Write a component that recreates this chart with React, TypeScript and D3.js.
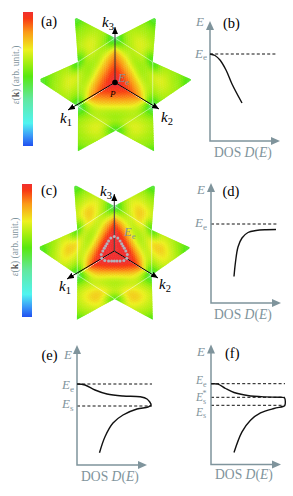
import React from 'react'
import * as d3 from 'd3'

// colour bar, value -> colour
const barValues = [0, 0.08, 0.17, 0.35, 0.52, 0.62, 0.72, 0.85, 0.95, 1]
const barColors = ['#2050f0', '#3c9cf8', '#50f4f0', '#62e8a0', '#58e810', '#a4ee10', '#eef020', '#fb9a18', '#f83a14', '#f03030']

// energy read on a grid of the (ki, kj) plane, step 0.25, rows ki, columns kj
const fieldA = [
  [1.04, 0.97, 0.9, 0.82, 0.25, 0.5, 0.5, 0.5, 0.5],
  [0.97, 0.93, 0.84, 0.72, 0.6, 0.6, 0.6, 0.55, 0.5],
  [0.9, 0.84, 0.72, 0.6, 0.66, 0.68, 0.62, 0.58, 0.5],
  [0.82, 0.72, 0.6, 0.58, 0.72, 0.74, 0.64, 0.6, 0.5],
  [0.25, 0.6, 0.66, 0.72, 0.25, 0.66, 0.62, 0.6, 0.4],
  [0.5, 0.6, 0.68, 0.74, 0.66, 0.62, 0.6, 0.58, 0.54],
  [0.5, 0.6, 0.62, 0.64, 0.62, 0.6, 0.58, 0.58, 0.54],
  [0.5, 0.55, 0.58, 0.6, 0.6, 0.58, 0.58, 0.54, 0.54],
  [0.5, 0.5, 0.5, 0.5, 0.4, 0.54, 0.54, 0.54, 0.54],
]
const fieldC = [
  [1.15, 1.06, 0.98, 0.88, 0.25, 0.5, 0.5, 0.5, 0.5],
  [1.06, 1.02, 0.92, 0.76, 0.62, 0.62, 0.6, 0.55, 0.5],
  [0.98, 0.92, 0.74, 0.6, 0.7, 0.74, 0.66, 0.6, 0.5],
  [0.88, 0.76, 0.6, 0.6, 0.82, 0.84, 0.68, 0.62, 0.5],
  [0.25, 0.62, 0.7, 0.82, 0.25, 0.7, 0.66, 0.6, 0.4],
  [0.5, 0.62, 0.74, 0.84, 0.7, 0.64, 0.62, 0.6, 0.56],
  [0.5, 0.6, 0.66, 0.68, 0.66, 0.62, 0.6, 0.58, 0.56],
  [0.5, 0.55, 0.6, 0.62, 0.6, 0.6, 0.58, 0.56, 0.56],
  [0.5, 0.5, 0.5, 0.5, 0.4, 0.56, 0.56, 0.56, 0.56],
]

// the far corners of each plane, in units of its own two axes
const planeCorners = [
  [[1.94, 0.92], [0.92, 1.94]],
  [[2.04, 1.16], [1.09, 2.06]],
  [[2.06, 1.09], [1.18, 2.08]],
]

// E_e contour in panel (c): radius of each dot, one 120 degree turn
const contourRadii = [14.5, 13.5, 11.5, 10.4, 10, 10.4, 11.5, 13.5]

// DOS curves
const curveBD = [0, 5, 10, 16, 22, 32]
const curveBE = [87, 85.5, 81, 71, 57, 38]
const curveDD = [23, 24.5, 27, 31, 37, 45, 55, 65]
const curveDE = [26.5, 41, 56, 65, 70.5, 72.5, 73.3, 73.5]
const curveED = [0, 8, 18, 30, 46, 63, 70, 74, 71, 60, 46, 36, 28, 22.5]
const curveEE = [81, 80, 75, 71, 69, 68.3, 66, 60, 58, 56, 50, 42, 28.3, 12.3]
const curveFD = [0, 7, 14.5, 23, 36.5, 53, 70, 73.5, 73.8, 72, 63, 49.5, 39.5, 31, 23]
const curveFE = [80.6, 80.3, 76, 72, 69, 67.6, 67.2, 66.6, 58.8, 58, 56, 51.6, 44.3, 32.6, 12]

const gray = '#7f949c'
const serif = '"Liberation Serif", serif'

function field3D(cx: number, cy: number, table: number[][], k1: number[], k2: number[], k3: number[], id: string) {
  const color = d3.scaleLinear<string>().domain(barValues).range(barColors).clamp(true)
  const unit = d3.scaleLinear().domain([0, 8]).range([0, 2])
  const sub = 5
  const step = 0.25 / sub
  const planes = [[k1, k2], [k2, k3], [k3, k1]]
  // smooth the grid with splines along both directions
  const rows = table.map((r) => d3.interpolateBasis(r))
  const read = (u: number, v: number) => d3.interpolateBasis(rows.map((r) => r(v / 2)))(u / 2)
  const grid = d3.range(0, 8 * sub).map((d) => unit(d / sub))
  return planes.map(([p, q], n) => {
    const pts = [[0, 0], [1, 0], planeCorners[n][0], [1, 1], planeCorners[n][1], [0, 1]]
    const outline = pts.map(([u, v]) => `${u},${v}`).join(' ')
    return (
      <g key={n} transform={`matrix(${p[0]},${p[1]},${q[0]},${q[1]},${cx},${cy})`}>
        <clipPath id={`${id}${n}`}><polygon points={outline} /></clipPath>
        <g clipPath={`url(#${id}${n})`}>
          {grid.flatMap((u) => grid.filter((v) => v <= u + 1.2 && u <= v + 1.2).map((v) => (
            <rect key={`${u}-${v}`} x={u} y={v} width={step * 1.25} height={step * 1.25}
              fill={color(read(u + step / 2, v + step / 2))} />
          )))}
        </g>
        <polyline points="1,0 1,1 0,1" fill="none" stroke="#fff" strokeOpacity={0.7}
          strokeWidth={0.7} vectorEffect="non-scaling-stroke" />
      </g>
    )
  })
}

function Sub({ x, y, main, sub, size = 14, fill = 'black', supr }: any) {
  return (
    <text x={x} y={y} fontFamily={serif} fontSize={size} fill={fill}>
      <tspan fontStyle="italic">{main}</tspan>
      <tspan dy={size * 0.22} fontSize={size * 0.7}>{sub}</tspan>
      {supr && <tspan dx={-size * 0.33} dy={-size * 0.62} fontSize={size * 0.7}>{supr}</tspan>}
    </text>
  )
}

function Bar({ x, y, h, id }: any) {
  const unit = d3.scaleLinear().domain([0, 1]).range([100, 0])
  return (
    <g>
      <linearGradient id={id} x1="0" x2="0" y1="0" y2="1">
        {barValues.map((v, i) => <stop key={v} offset={`${unit(v)}%`} stopColor={barColors[i]} />).reverse()}
      </linearGradient>
      <rect x={x} y={y} width={10} height={h} fill={`url(#${id})`} />
    </g>
  )
}

function BarLabel({ x, y }: any) {
  return (
    <text transform={`translate(${x},${y}) rotate(-90)`} fontFamily={serif} fontSize={9.6} fill={gray} textAnchor="middle">
      <tspan fontStyle="italic">ε</tspan>(<tspan fontWeight="bold" fill="#555">k</tspan>) (arb. unit.)
    </text>
  )
}

function Dos({ x0, y0, dos, en, dashes, w = 70, h = 120, dashEnd = 66 }: any) {
  const x = d3.scaleLinear().domain([0, w]).range([x0, x0 + w])
  const y = d3.scaleLinear().domain([0, h]).range([y0, y0 - h])
  const line = d3.line<number>().x((d) => x(dos[d])).y((d) => y(en[d])).curve(d3.curveCatmullRom.alpha(0.5))
  return (
    <g>
      {dashes.map((d: number) => (
        <line key={d} x1={x(0)} x2={x(dashEnd)} y1={y(d)} y2={y(d)} stroke="#111" strokeWidth={1} strokeDasharray="3 2.2" />
      ))}
      <path d={`M${x(0)},${y(h - 6)}V${y(0)}H${x(w - 6)}`} fill="none" stroke={gray} strokeWidth={1.5} />
      <path d={`M${x(0)},${y(h)}l4,9h-8z`} fill={gray} />
      <path d={`M${x(w)},${y(0)}l-9,-4v8z`} fill={gray} />
      <path d={line(d3.range(dos.length)) as string} fill="none" stroke="#111" strokeWidth={1.4} />
    </g>
  )
}

function DosLabel({ x, y }: any) {
  return (
    <text x={x} y={y} fontFamily={serif} fontSize={13.6} fill={gray}>
      DOS <tspan fontStyle="italic">D</tspan>(<tspan fontStyle="italic">E</tspan>)
    </text>
  )
}

function Axis3D({ cx, cy, ends }: any) {
  return (
    <g>
      {ends.map(([x, y]: number[], i: number) => (
        <line key={i} x1={cx} y1={cy} x2={x} y2={y} stroke={i === 2 ? '#333' : 'black'} strokeWidth={1} markerEnd="url(#tip)" />
      ))}
    </g>
  )
}

export default function App() {
  const radial = d3.scaleLinear().domain([0, 1]).range([0, 1])
  const dots = d3.range(24).map((i) => {
    const [x, y] = d3.pointRadial((i * 15 * Math.PI) / 180, radial(contourRadii[i % 8]))
    return { x: 114.3 + x, y: 251 + y }
  })
  return (
    <svg width={293} height={496} style={{ position: 'absolute', left: 0, top: 0, display: 'block' }}>
      <defs>
        <marker id="tip" markerUnits="userSpaceOnUse" markerWidth={9} markerHeight={7} refX={7} refY={3} orient="auto">
          <path d="M0,0L7,3L0,6z" fill="black" />
        </marker>
      </defs>

      {/* (a) */}
      <Bar x={23} y={12} h={134} id="barA" />
      <BarLabel x={18.5} y={75} />
      {field3D(115, 82.5, fieldA, [-37, 24], [37.7, 24], [0, -44.5], 'pa')}
      <Axis3D cx={115} cy={82.5} ends={[[68, 110], [159, 109], [115, 27]]} />
      <circle cx={115} cy={82.5} r={2.8} fill="black" />
      <text x={41} y={26} fontFamily={serif} fontSize={14.5}>(a)</text>
      <Sub x={102} y={27} main="k" sub="3" size={15} />
      <Sub x={60} y={123} main="k" sub="1" size={15} />
      <Sub x={161} y={122} main="k" sub="2" size={15} />
      <text x={110} y={97} fontFamily={serif} fontSize={9} fontStyle="italic">P</text>
      <Sub x={118} y={82} main="E" sub="e" size={12} fill={gray} />

      {/* (c) */}
      <Bar x={22} y={184} h={133} id="barC" />
      <BarLabel x={18} y={247} />
      {field3D(114.3, 251, fieldC, [-37, 24], [37.4, 24], [0, -45], 'pc')}
      <Axis3D cx={114.3} cy={251} ends={[[67, 279], [158, 278], [114.3, 194]]} />
      {dots.map((d, i) => <circle key={i} cx={d.x} cy={d.y} r={1.5} fill="#b2b2ba" />)}
      <text x={41} y={195} fontFamily={serif} fontSize={14.5}>(c)</text>
      <Sub x={100} y={196} main="k" sub="3" size={15} />
      <Sub x={59} y={291} main="k" sub="1" size={15} />
      <Sub x={159} y={289} main="k" sub="2" size={15} />
      <Sub x={124} y={236} main="E" sub="e" size={12.5} fill={gray} />

      {/* (b) */}
      <Dos x0={210} y0={141} dos={curveBD} en={curveBE} dashes={[87]} />
      <text x={223} y={28} fontFamily={serif} fontSize={14.5}>(b)</text>
      <Sub x={196} y={26} main="E" sub="" size={13} fill={gray} />
      <Sub x={195} y={57.5} main="E" sub="e" size={13} fill={gray} />
      <DosLabel x={214} y={157} />

      {/* (d) */}
      <Dos x0={211} y0={303} dos={curveDD} en={curveDE} dashes={[79]} />
      <text x={222.5} y={196} fontFamily={serif} fontSize={14.5}>(d)</text>
      <Sub x={197} y={194} main="E" sub="" size={13} fill={gray} />
      <Sub x={195} y={227} main="E" sub="e" size={13} fill={gray} />
      <DosLabel x={214} y={319} />

      {/* (e) */}
      <Dos x0={77} y0={465} dos={curveED} en={curveEE} dashes={[81, 59]} dashEnd={75} />
      <text x={41.5} y={359.5} fontFamily={serif} fontSize={14.5}>(e)</text>
      <Sub x={64} y={359} main="E" sub="" size={13} fill={gray} />
      <Sub x={62} y={389} main="E" sub="e" size={13} fill={gray} />
      <Sub x={62} y={408} main="E" sub="s" size={13} fill={gray} />
      <DosLabel x={81} y={481} />

      {/* (f) */}
      <Dos x0={211} y0={464.5} dos={curveFD} en={curveFE} dashes={[80.8, 67.2, 59.2]} dashEnd={74} />
      <text x={225} y={358} fontFamily={serif} fontSize={14.5}>(f)</text>
      <Sub x={197} y={356} main="E" sub="" size={13} fill={gray} />
      <Sub x={196} y={384} main="E" sub="e" size={11.5} fill={gray} />
      <Sub x={196} y={401} main="E" sub="s" supr="*" size={11.5} fill={gray} />
      <Sub x={196} y={415.5} main="E" sub="s" size={11.5} fill={gray} />
      <DosLabel x={215} y={479} />
    </svg>
  )
}
